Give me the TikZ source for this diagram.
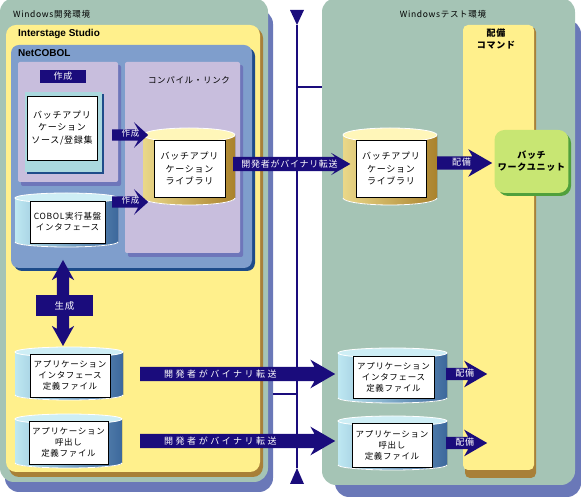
\documentclass[tikz,border=0pt]{standalone}
\usepackage{fontspec}
\newfontfamily\jp{Noto Sans CJK JP}[LetterSpace=8]
\newfontfamily\jpwide{Noto Sans CJK JP}[LetterSpace=28]
\newfontfamily\lat{Liberation Sans}
\usetikzlibrary{shapes.arrows,calc,positioning}
\definecolor{envgreen}{RGB}{165,196,181}
\definecolor{envshadow}{RGB}{106,120,184}
\definecolor{studioyel}{RGB}{255,240,140}
\definecolor{studiobrn}{RGB}{168,128,56}
\definecolor{cobolblue}{RGB}{127,158,204}
\definecolor{coboldark}{RGB}{30,76,138}
\definecolor{lavender}{RGB}{200,190,221}
\definecolor{panelshadow}{RGB}{110,118,186}
\definecolor{navy}{RGB}{26,12,124}
\definecolor{doccyan}{RGB}{170,216,222}
\definecolor{cylgold}{RGB}{170,130,44}
\definecolor{cylcream}{RGB}{255,244,168}
\definecolor{cyllight}{RGB}{190,232,242}
\definecolor{cylsteel}{RGB}{60,104,156}
\definecolor{unitgreen}{RGB}{200,230,115}
\definecolor{unitdark}{RGB}{80,160,60}
\newcommand{\boxfont}{\jp\fontsize{9}{12.2}\selectfont}
\newcommand{\cylfont}{\jp\fontsize{8.5}{11}\selectfont}
\tikzset{
    envsty/.style={fill=envgreen,rounded corners=14pt},
    envshsty/.style={fill=envshadow,rounded corners=14pt},
    studiosty/.style={fill=studioyel,rounded corners=10pt},
    studioshsty/.style={fill=studiobrn,rounded corners=10pt},
    cobsty/.style={fill=cobolblue,rounded corners=8pt},
    cobshsty/.style={fill=coboldark,rounded corners=8pt},
    panelsty/.style={fill=lavender,rounded corners=2pt},
    panelshsty/.style={fill=panelshadow,rounded corners=2pt},
    titlesty/.style={font=\jp\fontsize{8.5}{10}\selectfont,inner sep=0pt},
    latsty/.style={font=\lat\bfseries\fontsize{10}{11}\selectfont,inner sep=0pt,anchor=west},
    docsty/.style={draw=black,fill=white,inner sep=0pt,align=center,font=\boxfont},
    tagsty/.style={fill=navy,text=white,inner sep=0pt,font=\jp\fontsize{9}{10}\selectfont},
    fatsty/.style={single arrow,fill=navy,text=white,inner sep=0pt,anchor=tail,
        single arrow head indent=4pt,single arrow tip angle=60,
        text depth=3.5pt,font=\jp\fontsize{9}{10}\selectfont},
    divsty/.style={draw=navy,line width=2pt},
    goldbody/.style={left color=cylcream!75!cylgold,middle color=cylcream,right color=cylgold},
    goldtop/.style={fill=cylcream!80!white,draw=white,line width=0.8pt},
    bluebody/.style={left color=cyllight,right color=cylsteel},
    bluetop/.style={fill=cyllight!75!white,draw=white,line width=0.8pt},
}
\newcommand{\drumcyl}[6]{%
  \fill[#6body] (#1,#2) -- (#1,#4) arc[start angle=180,end angle=360,x radius={(#3-#1)/2},y radius=#5] -- (#3,#2) -- cycle;
  \draw[white,line width=0.8pt] (#1,#4) arc[start angle=180,end angle=360,x radius={(#3-#1)/2},y radius=#5];
  \path[#6top] ({(#1+#3)/2},#2) ellipse[x radius={(#3-#1)/2},y radius=#5];
}

\begin{document}
\begin{tikzpicture}[x=1pt,y=1pt,>=latex]
  \useasboundingbox (0,0) rectangle (581,497);
  % development environment
  \fill[envshsty] (5,5) rectangle (273,487);
  \fill[envsty] (0,15) rectangle (268,499);
  \fill[studioshsty] (9,20) rectangle (263,469);
  \fill[studiosty] (6,25) rectangle (260,472);
  \fill[cobshsty] (14,226) rectangle (255,449);
  \fill[cobsty] (11,229) rectangle (252,452);
  \fill[panelshsty] (21,311) rectangle (121,432);
  \fill[panelsty] (18,315) rectangle (118,435);
  \fill[panelshsty] (128,240) rectangle (243,432);
  \fill[panelsty] (125,244) rectangle (240,435);
  \node[titlesty,anchor=west] (devtitle) at (13,483) {Windows開発環境};
  \node[latsty] (studiotitle) at (18,463) {Interstage Studio};
  \node[latsty] (cobtitle) at (18,444) {NetCOBOL};
  \node[tagsty,minimum width=46pt,minimum height=13pt] (maketag) at (63,420.5) {作成};
  \node[titlesty] (linktitle) at (189,417) {コンパイル・リンク};

  % source and library
  \fill[coboldark] (27,323) rectangle (104,403);
  \fill[doccyan] (25,325) rectangle (102,405);
  \node[docsty,minimum width=70pt,minimum height=64pt] (devsrc) at (62,369) {バッチアプリ\\ケーション\\ソース/登録集};
  \drumcyl{143}{362}{235}{299}{7}{gold}
  \node[docsty,minimum width=71pt,minimum height=57pt] (devlib) at (189.5,328.5) {バッチアプリ\\ケーション\\ライブラリ};
  \drumcyl{15}{299}{118}{255}{5}{blue}
  \node[docsty,minimum width=75pt,minimum height=42pt,font=\cylfont] (cobif) at (67.5,275) {COBOL実行基盤\\インタフェース};
  \node[fatsty,minimum height=36pt,minimum width=20pt,text height=7.5pt,single arrow tip angle=84,
        font=\jp\fontsize{8.5}{10}\selectfont] (make1) at (112,362) {\hspace*{7pt}作成};
  \node[fatsty,minimum height=36pt,minimum width=20pt,text height=7.5pt,single arrow tip angle=84,
        font=\jp\fontsize{8.5}{10}\selectfont] (make2) at (112,295) {\hspace*{7pt}作成};

  % generated definition files
  \node[double arrow,fill=navy,rotate=90,inner sep=0pt,text height=12pt,text depth=0pt,
        minimum height=86pt,double arrow head extend=5pt,double arrow tip angle=58,
        double arrow head indent=3pt] (genarrow) at (63,194) {};
  \node[tagsty,minimum width=57pt,minimum height=21pt,font=\jp\fontsize{9.5}{10}\selectfont] (gentag) at (64.5,191.5) {生成};
  \drumcyl{15}{145}{123}{102}{5}{blue}
  \node[docsty,minimum width=80pt,minimum height=43pt,font=\cylfont] (devapif) at (70,121.5) {アプリケーション\\インタフェース\\定義ファイル};
  \drumcyl{15}{78}{122}{34}{5}{blue}
  \node[docsty,minimum width=79pt,minimum height=43pt,font=\cylfont] (devcall) at (68.5,54.5) {アプリケーション\\呼出し\\定義ファイル};

  % test environment
  \fill[envshsty] (335,0) rectangle (581,477);
  \fill[envsty] (322,12) rectangle (575,499);
  \node[titlesty] (testtitle) at (443,483) {Windowsテスト環境};
  \fill[studioshsty,rounded corners=5pt] (465,19) rectangle (536,470);
  \fill[studiosty,rounded corners=5pt] (463,27) rectangle (534,472);
  \node[font=\jp\bfseries\fontsize{9}{12}\selectfont,align=center,inner sep=0pt] (deploytitle) at (496,458) {配備\\コマンド};
  \drumcyl{343}{362}{437}{299}{7}{gold}
  \node[docsty,minimum width=70pt,minimum height=57pt] (testlib) at (391,328.5) {バッチアプリ\\ケーション\\ライブラリ};
  \fill[unitdark,rounded corners=10pt] (498,301) rectangle (571,364);
  \node[fill=unitgreen,rounded corners=10pt,minimum width=73pt,minimum height=63pt,align=center,
        font=\jp\bfseries\fontsize{9}{12}\selectfont] (unit) at (531.5,335.5) {バッチ\\ワークユニット};
  \drumcyl{338}{144}{447}{99}{5}{blue}
  \node[docsty,minimum width=81pt,minimum height=42pt,font=\cylfont] (testapif) at (393.5,120) {アプリケーション\\インタフェース\\定義ファイル};
  \drumcyl{338}{76}{447}{32}{5}{blue}
  \node[docsty,minimum width=80pt,minimum height=44pt,font=\cylfont] (testcall) at (392,52) {アプリケーション\\呼出し\\定義ファイル};

  % divider
  \coordinate (divtop) at (297,472);
  \coordinate (divbot) at (297,29);
  \fill[navy] (290,487) -- (304,487) -- (divtop) -- cycle;
  \fill[navy] (290,13) -- (304,13) -- (divbot) -- cycle;
  \draw[divsty] (divtop) -- (divbot);
  \coordinate (divhi) at (297,410);
  \coordinate (testedge) at (322,410);
  \coordinate (divlo) at (297,103);
  \coordinate (devedge) at (273,103);
  \draw[divsty] (divhi) -- (testedge);
  \draw[divsty] (devedge) -- (divlo);

  % transfer and deploy
  \node[fatsty,minimum height=115pt,minimum width=22pt,text height=10.5pt,single arrow head extend=4pt] (libsend) at (233,333) {\hspace*{8pt}開発者がバイナリ転送};
  \node[fatsty,minimum height=55pt,minimum width=21pt,text height=9.5pt] (libdeploy) at (437,334) {\hspace*{5pt}配備};
  \node[fatsty,minimum height=195pt,minimum width=24pt,text height=10.5pt,font=\jpwide\fontsize{9}{10}\selectfont] (ifsend) at (140,123) {開発者がバイナリ転送\hspace*{22pt}};
  \node[fatsty,minimum height=195pt,minimum width=24pt,text height=10.5pt,font=\jpwide\fontsize{9}{10}\selectfont] (callsend) at (140,56) {開発者がバイナリ転送\hspace*{22pt}};
  \node[fatsty,minimum height=41pt,minimum width=24pt,text height=8.5pt] (ifdeploy) at (446,123) {\hspace*{7pt}配備};
  \node[fatsty,minimum height=41pt,minimum width=24pt,text height=8.5pt] (calldeploy) at (446,54) {\hspace*{7pt}配備};
\end{tikzpicture}
\end{document}
